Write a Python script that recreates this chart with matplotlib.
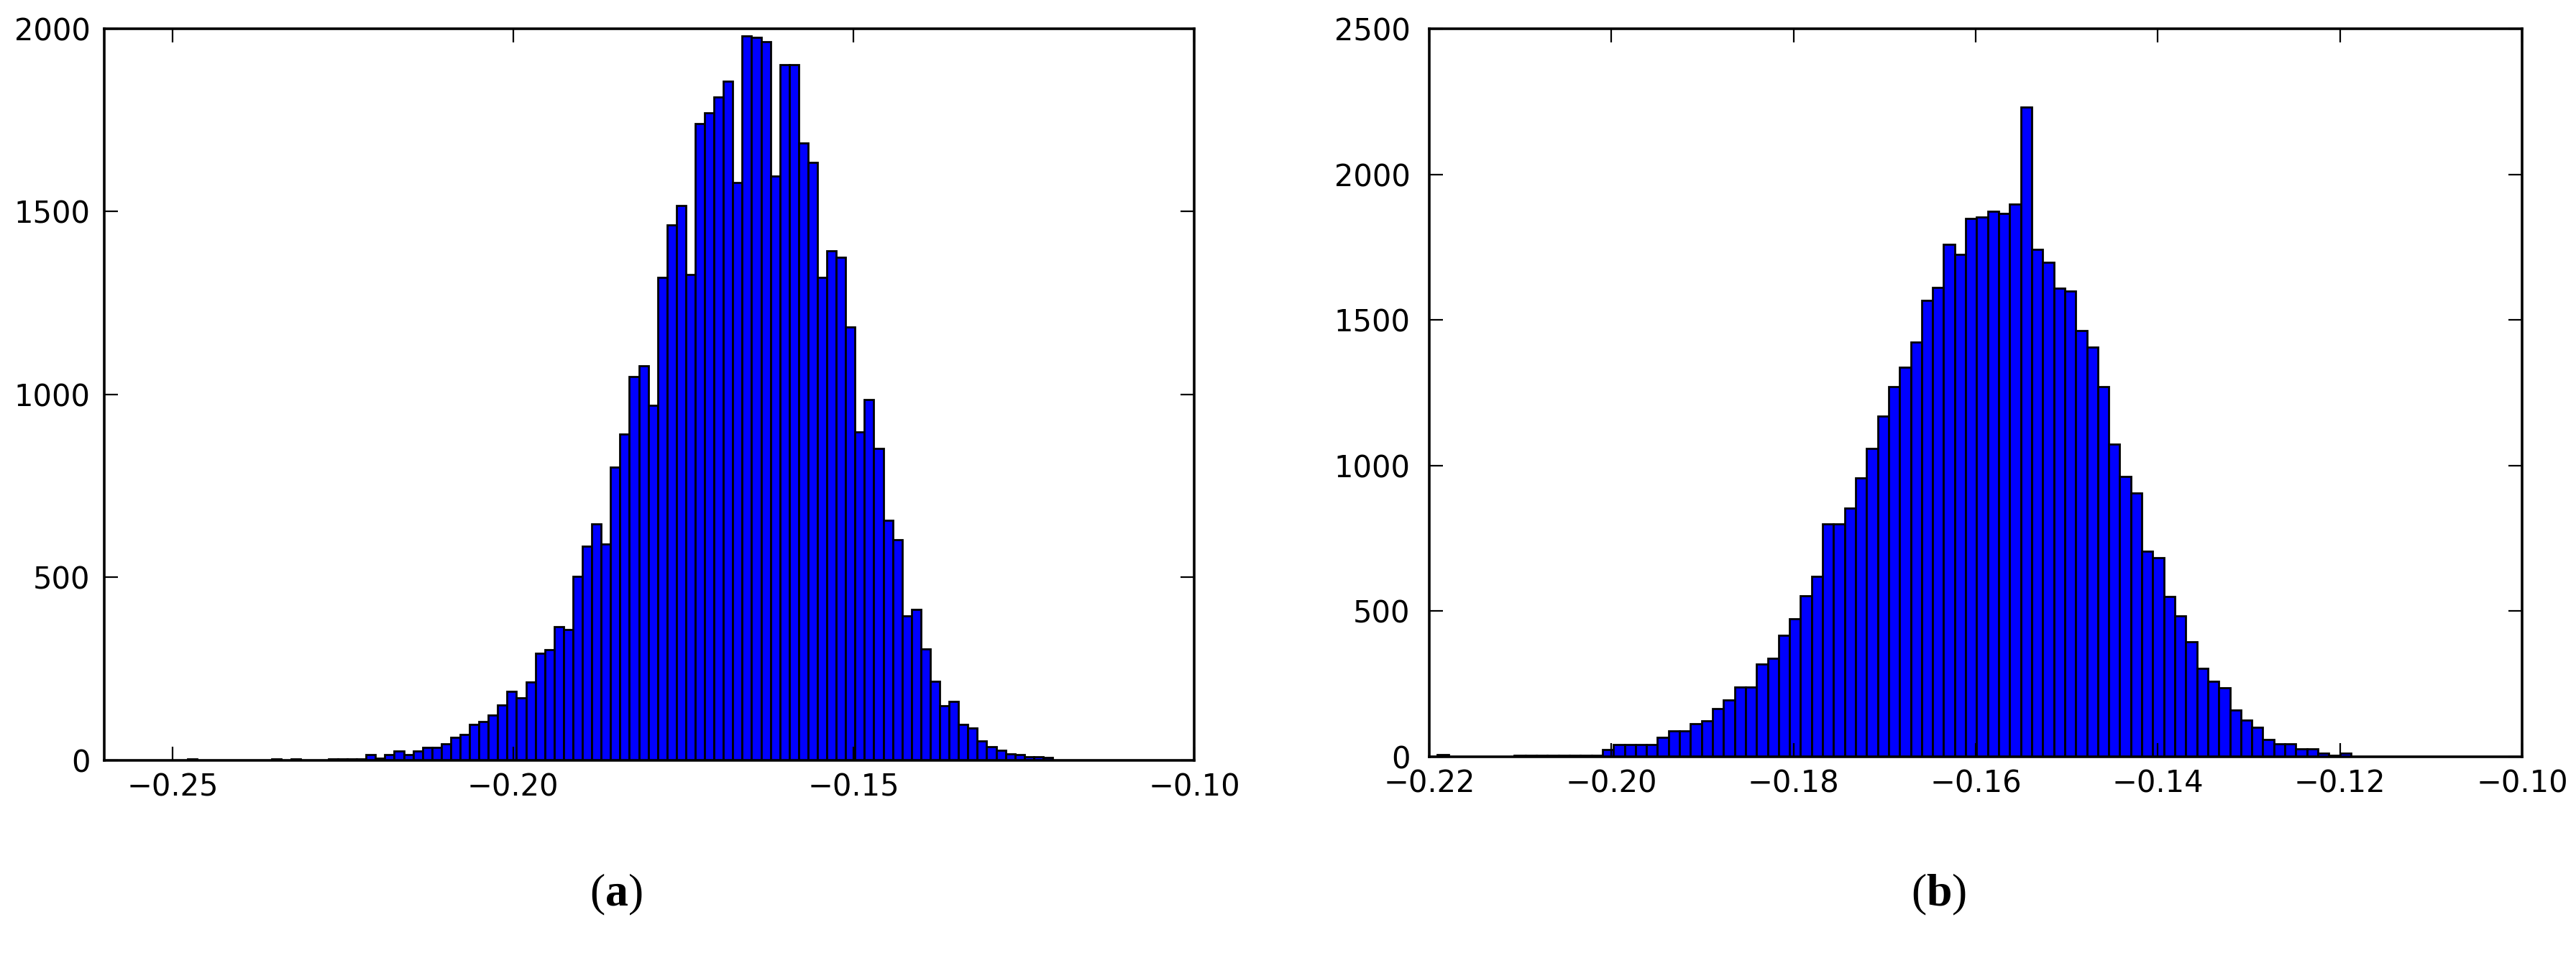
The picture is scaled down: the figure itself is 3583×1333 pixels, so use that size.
"""
plot.py - two histograms side by side, panels (a) and (b).

Counts are read off the reference picture, one value per bin,
left to right. Each panel uses equal-width bins between its
first and last bin edge.

Output: out.png (3583 x 1333 px)
"""

import matplotlib

matplotlib.use("Agg")

import matplotlib.pyplot as plt
import numpy as np

# === DATA ===

# panel (a): 92 bins
LEFT_EDGE_MIN = -0.2478
LEFT_EDGE_MAX = -0.1208
LEFT_COUNTS = [
    4, 0, 0, 0, 0, 0, 0, 0, 0, 4,
    0, 4, 0, 0, 0, 4, 4, 4, 4, 15,
    5, 16, 26, 15, 26, 35, 36, 45, 63, 71,
    99, 106, 124, 151, 188, 170, 214, 293, 303, 366,
    357, 502, 585, 647, 592, 802, 891, 1050, 1078, 971,
    1320, 1464, 1516, 1329, 1741, 1770, 1813, 1856, 1579, 1981,
    1976, 1964, 1598, 1902, 1902, 1688, 1634, 1320, 1392, 1375,
    1184, 897, 987, 853, 657, 603, 395, 412, 305, 216,
    150, 162, 99, 89, 53, 38, 28, 18, 16, 9,
    9, 7,
]
LEFT_XTICKS = [-0.25, -0.20, -0.15, -0.10]
LEFT_YTICKS = [0, 500, 1000, 1500, 2000]

# panel (b): 83 bins
RIGHT_EDGE_MIN = -0.2191
RIGHT_EDGE_MAX = -0.1188
RIGHT_COUNTS = [
    8, 0, 0, 0, 0, 0, 0, 4, 4, 4,
    4, 4, 4, 4, 4, 24, 42, 42, 42, 42,
    67, 88, 88, 113, 124, 166, 194, 239, 239, 317,
    338, 416, 474, 552, 619, 800, 800, 854, 957, 1058,
    1170, 1270, 1337, 1423, 1568, 1612, 1759, 1726, 1849, 1853,
    1874, 1865, 1897, 2230, 1743, 1698, 1608, 1599, 1464, 1406,
    1272, 1074, 962, 906, 705, 683, 549, 484, 394, 304,
    259, 237, 160, 126, 102, 58, 45, 45, 26, 26,
    13, 4, 13,
]
RIGHT_XTICKS = [-0.22, -0.20, -0.18, -0.16, -0.14, -0.12, -0.10]
RIGHT_YTICKS = [0, 500, 1000, 1500, 2000, 2500]

PANEL_LABELS = ["a", "b"]

# === STYLE ===

plt.rcParams["font.family"] = ["DejaVu Sans"]
plt.rcParams["mathtext.fontset"] = "custom"
plt.rcParams["mathtext.rm"] = "Liberation Serif"
plt.rcParams["mathtext.bf"] = "Liberation Serif:bold"

BAR_COLOR = "#0000ff"
TICK_SIZE = 30


def draw_hist(ax, counts, edge_min, edge_max, xlim, xticks, yticks, xpad, ypad):
    """Draw one histogram panel in the old classic matplotlib look."""
    edges = np.linspace(edge_min, edge_max, len(counts) + 1)
    ax.bar(
        edges[:-1],
        counts,
        width=np.diff(edges),
        align="edge",
        color=BAR_COLOR,
        edgecolor="black",
        linewidth=2.0,
    )
    ax.set_xlim(*xlim)
    ax.set_ylim(yticks[0], yticks[-1])
    ax.set_xticks(xticks)
    ax.set_yticks(yticks)
    ax.set_xticklabels(["\u2212%.2f" % abs(t) for t in xticks])
    ax.tick_params(
        direction="in", top=True, right=True, length=14, width=1.6,
        labelsize=TICK_SIZE, colors="black",
    )
    ax.tick_params(axis="x", pad=xpad)
    ax.tick_params(axis="y", pad=ypad)
    for spine in ax.spines.values():
        spine.set_linewidth(2.6)


# === FIGURE ===

fig = plt.figure(figsize=(35.83, 13.33), dpi=100)

ax_a = fig.add_axes([0.0405, 0.2063, 0.4231, 0.7637])
ax_b = fig.add_axes([0.5548, 0.2101, 0.4243, 0.7599])

draw_hist(ax_a, LEFT_COUNTS, LEFT_EDGE_MIN, LEFT_EDGE_MAX,
          (-0.26, -0.10), LEFT_XTICKS, LEFT_YTICKS, 12, 14)
draw_hist(ax_b, RIGHT_COUNTS, RIGHT_EDGE_MIN, RIGHT_EDGE_MAX,
          (-0.22, -0.10), RIGHT_XTICKS, RIGHT_YTICKS, 12, 19)

for x, letter in zip([0.239, 0.7527], PANEL_LABELS):
    fig.text(
        x, 0.066, "(" + r"$\mathbf{%s}$" % letter + ")",
        family="Liberation Serif", fontsize=46, ha="center", va="center",
    )

fig.savefig("out.png", dpi=100, facecolor="white")
plt.close(fig)
